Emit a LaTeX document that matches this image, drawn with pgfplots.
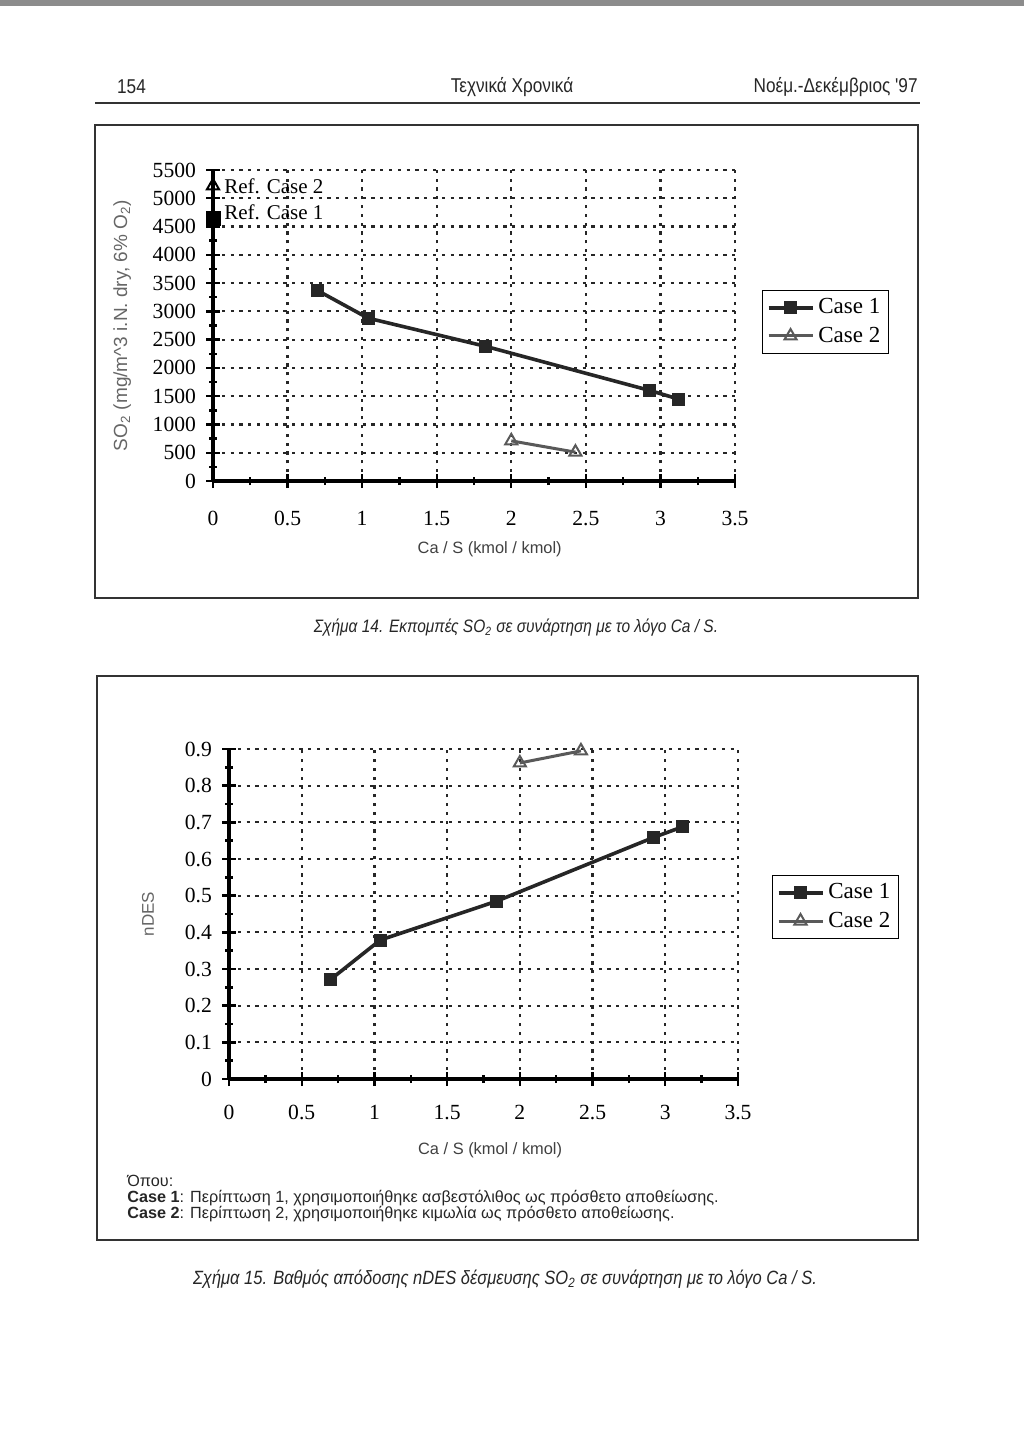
\documentclass[border=0pt]{standalone}
\usepackage{fontspec}
\setmainfont{Liberation Serif}
\setsansfont{Liberation Sans}
\newfontfamily\narrow[FakeStretch=0.86]{Liberation Sans}
\usepackage{pgfplots}
\pgfplotsset{compat=1.18}

\pgfplotsset{
  scanchart/.style={
    scale only axis,
    axis lines=left,
    axis line style={line width=1.7pt,-},
    clip=false,
    xmin=0, xmax=3.5,
    xtick={0,0.5,1,1.5,2,2.5,3,3.5},
    minor x tick num=1, minor y tick num=1,
    tick align=center,
    major tick length=7pt, minor tick length=4pt,
    every tick/.style={black, line width=1.2pt},
    grid=major,
    major grid style={black!85, line width=1.1pt, dash pattern=on 1.6pt off 2.8pt},
    ticklabel style={font=\fontsize{10.8}{12}\selectfont},
    /pgf/number format/assume math mode=true,
    /pgf/number format/set thousands separator={},
    yticklabel style={xshift=-1.5pt},
    xlabel style={font=\sffamily\fontsize{8.2}{9.5}\selectfont, text=black!75},
    ylabel style={font=\sffamily\fontsize{9.5}{11}\selectfont, text=black!60},
    legend style={draw=black, line width=0.6pt, font=\fontsize{11.5}{13}\selectfont,
      inner sep=2pt, row sep=1pt, cells={anchor=west}},
    legend image code/.code={\draw[mark repeat=2,mark phase=2,#1]
      plot coordinates {(0pt,0pt) (11pt,0pt) (22pt,0pt)};},
  },
  case1/.style={black!85, line width=1.8pt, mark=square*, mark size=3pt,
    mark options={solid, line width=0.5pt, fill=black!85}},
  case2/.style={black!65, line width=1.5pt, mark=triangle, mark size=3.5pt,
    mark options={solid, line width=1pt, fill=white}},
}

\begin{document}
\begin{tikzpicture}
\path (0pt,0pt) rectangle (512pt,-722pt);
\fill[black!45] (0pt,0pt) rectangle (512pt,-3pt);

% page header
\node[font=\narrow\fontsize{10}{12}\selectfont, text=black!85] at (65.75pt,-43.5pt) {154};
\node[font=\narrow\fontsize{10}{12}\selectfont, text=black!85] at (256pt,-43.5pt) {Τεχνικά Χρονικά};
\node[font=\narrow\fontsize{10}{12}\selectfont, text=black!85, anchor=east, inner sep=0pt] at (459pt,-43.5pt) {Νοέμ.-Δεκέμβριος '97};
\draw[line width=0.9pt, black!80] (47.5pt,-51.5pt) -- (460pt,-51.5pt);

% frames
\draw[line width=0.7pt, black!80] (47.5pt,-62.5pt) rectangle (459pt,-299pt);
\draw[line width=0.7pt, black!80] (48.5pt,-338pt) rectangle (459pt,-620pt);

% figure 14
\begin{axis}[scanchart,
  at={(106.5pt,-240.5pt)}, anchor=south west,
  width=261pt, height=155.5pt,
  ymin=0, ymax=5500,
  ytick={0,500,1000,1500,2000,2500,3000,3500,4000,4500,5000,5500},
  xticklabel style={anchor=base, yshift=-18.5pt},
  xlabel={Ca / S (kmol / kmol)},
  xlabel style={at={(axis description cs:0.53,-0.219)}, anchor=center},
  ylabel={SO\textsubscript{2} (mg/m\textasciicircum 3 i.N. dry, 6\% O\textsubscript{2})},
  ylabel style={at={(axis description cs:-0.174,0.5)}, anchor=center},
  legend style={at={(1.052,0.614)}, anchor=north west},
]
\addplot[case1] coordinates {(0.70,3370) (1.04,2880) (1.83,2380) (2.93,1600) (3.12,1450)};
\addlegendentry{Case 1}
\addplot[case2] coordinates {(2.00,710) (2.43,510)};
\addlegendentry{Case 2}
\addplot[forget plot, only marks, mark=triangle, mark size=3.5pt, black, line width=1pt,
  mark options={fill=white}] coordinates {(0,5220)};
\addplot[forget plot, only marks, mark=square*, mark size=3.5pt, black] coordinates {(0,4650)};
\node[anchor=west, font=\fontsize{10.5}{12}\selectfont, inner sep=1pt] at (axis cs:0.06,5220) {Ref. Case 2};
\node[anchor=west, font=\fontsize{10.5}{12}\selectfont, inner sep=1pt] at (axis cs:0.06,4750) {Ref. Case 1};
\end{axis}

\node[font=\narrow\itshape\fontsize{9}{11}\selectfont, text=black!85] at (258pt,-314pt)
  {Σχήμα 14. Εκπομπές SO\textsubscript{2} σε συνάρτηση με το λόγο Ca / S.};

% figure 15
\begin{axis}[scanchart,
  at={(114.5pt,-539.5pt)}, anchor=south west,
  width=254.5pt, height=165pt,
  ymin=0, ymax=0.9,
  ytick={0,0.1,0.2,0.3,0.4,0.5,0.6,0.7,0.8,0.9},
  yticklabel style={/pgf/number format/fixed, /pgf/number format/precision=1},
  xticklabel style={anchor=base, yshift=-16.5pt},
  xlabel={Ca / S (kmol / kmol)},
  xlabel style={at={(axis description cs:0.513,-0.215)}, anchor=center},
  ylabel={nDES},
  ylabel style={at={(axis description cs:-0.159,0.5)}, anchor=center, font=\sffamily\fontsize{8.5}{10}\selectfont},
  legend style={at={(1.067,0.618)}, anchor=north west},
]
\addplot[case1] coordinates {(0.70,0.272) (1.04,0.379) (1.84,0.485) (2.92,0.659) (3.12,0.688)};
\addlegendentry{Case 1}
\addplot[case2] coordinates {(2.00,0.862) (2.42,0.895)};
\addlegendentry{Case 2}
\end{axis}

% notes
\begin{scope}[every node/.style={anchor=west, inner sep=0pt, font=\sffamily\fontsize{8.1}{9.5}\selectfont, text=black!85}]
\node at (63.5pt,-590.5pt) {Όπου:};
\node at (63.5pt,-599pt) {\textbf{Case 1}: Περίπτωση 1, χρησιμοποιήθηκε ασβεστόλιθος ως πρόσθετο αποθείωσης.};
\node at (63.5pt,-607pt) {\textbf{Case 2}: Περίπτωση 2, χρησιμοποιήθηκε κιμωλία ως πρόσθετο αποθείωσης.};
\end{scope}

\node[font=\narrow\itshape\fontsize{9.6}{11}\selectfont, text=black!85] at (252.5pt,-639.5pt)
  {Σχήμα 15. Βαθμός απόδοσης nDES δέσμευσης SO\textsubscript{2} σε συνάρτηση με το λόγο Ca / S.};
\end{tikzpicture}
\end{document}
